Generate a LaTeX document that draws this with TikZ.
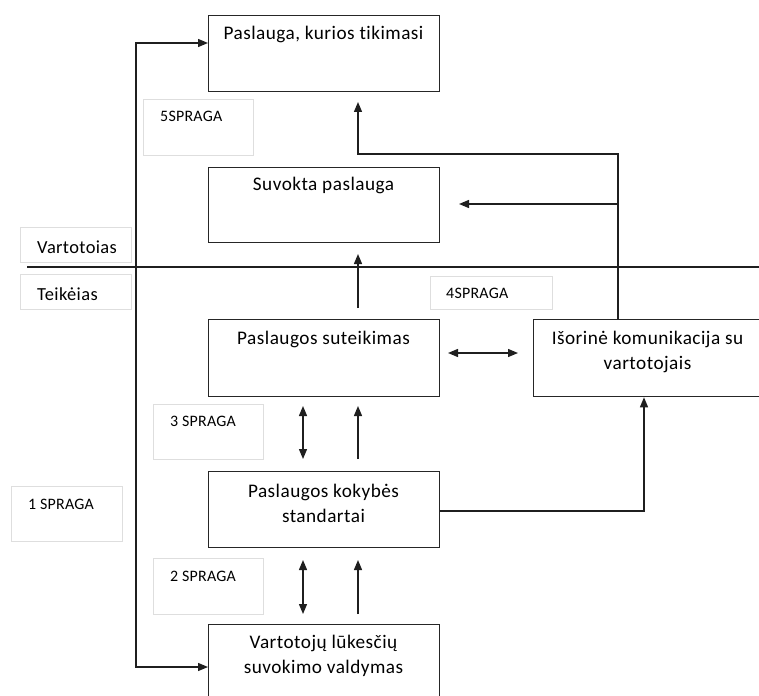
\documentclass[tikz,border=0pt]{standalone}
\usepackage{fontspec}
\setmainfont{Carlito}[Ligatures=NoCommon]
\usetikzlibrary{arrows.meta}
\begin{document}
\begin{tikzpicture}[x=1bp,y=-1bp,
  box/.style={draw=black!85, line width=1.3bp, rectangle, anchor=north west, inner sep=0pt},
  gapbox/.style={draw=black!13, line width=1bp, rectangle, anchor=north west, inner sep=0pt},
  btext/.style={font=\fontsize{19.3}{25}\selectfont\addfontfeature{LetterSpace=2.5}, align=center, anchor=base, inner sep=0pt},
  gtext/.style={font=\fontsize{16}{19}\selectfont\addfontfeature{LetterSpace=1.5}, anchor=base west, inner sep=0pt},
  stext/.style={font=\fontsize{18.5}{22}\selectfont\addfontfeature{LetterSpace=2}, anchor=base west, inner sep=0pt},
  ln/.style={line width=1.3bp, draw=black!88},
  arr/.style={ln, -{Triangle[length=10bp,width=8bp]}},
  darr/.style={ln, {Triangle[length=10bp,width=8bp]}-{Triangle[length=10bp,width=8bp]}}]
\clip (0,0) rectangle (759,696);
\fill[white] (0,0) rectangle (759,696);

% main boxes
\node[box, minimum width=231bp, minimum height=76bp] (exp) at (208,15) {};
\node[box, minimum width=231bp, minimum height=75bp] (suv) at (208,167) {};
\node[box, minimum width=231bp, minimum height=77bp] (sut) at (208,319) {};
\node[box, minimum width=229bp, minimum height=77bp] (iso) at (533,319) {};
\node[box, minimum width=231bp, minimum height=76bp] (kok) at (208,471) {};
\node[box, minimum width=231bp, minimum height=90bp] (val) at (208,624) {};

% box texts (anchor = baseline of last line)
\node[btext] (expt) at (323.5,40) {Paslauga, kurios tikimasi};
\node[btext] (suvt) at (323.5,190) {Suvokta paslauga};
\node[btext] (sutt) at (323.5,344) {Paslaugos suteikimas};
\node[btext] (isot) at (647.5,369.5) {Išorinė komunikacija su\\vartotojais};
\node[btext] (kokt) at (323.5,522) {Paslaugos kokybės\\standartai};
\node[btext] (valt) at (323.5,673) {Vartotojų lūkesčių\\suvokimo valdymas};

% gap boxes
\node[gapbox, minimum width=110bp, minimum height=56bp] (g5) at (143,99) {};
\node[gapbox, minimum width=110bp, minimum height=55bp] (g3) at (153,404) {};
\node[gapbox, minimum width=110bp, minimum height=56bp] (g2) at (153,558) {};
\node[gapbox, minimum width=111bp, minimum height=55bp] (g1) at (11,486) {};
\node[gapbox, minimum width=122bp, minimum height=33bp] (g4) at (430,276) {};
\node[gapbox, minimum width=111bp, minimum height=35bp] (gv) at (20,227) {};
\node[gapbox, minimum width=111bp, minimum height=35bp] (gt) at (20,274) {};

\node[gtext] (g5t) at (160,122) {5SPRAGA};
\node[gtext] (g3t) at (170,426) {3 SPRAGA};
\node[gtext] (g2t) at (170,581) {2 SPRAGA};
\node[gtext] (g1t) at (28,509) {1 SPRAGA};
\node[gtext] (g4t) at (446,298) {4SPRAGA};
\node[stext] (gvt) at (37,253) {Vartotoias};
\node[stext] (gtt) at (37,300) {Teikėias};

% divider line
\coordinate (hl1) at (27,267);
\coordinate (hl2) at (760,267);
\draw[ln] (hl1) -- (hl2);

% left connector
\coordinate (L1) at (136,43);
\coordinate (L2) at (136,667);
\draw[darr] (exp.west |- L1) -- (L1) -- (L2) -- (val.west |- L2);

% right connector
\coordinate (R1) at (618,154);
\coordinate (R2) at (358,154);
\coordinate (R3) at (358,102);
\coordinate (R4) at (618,204);
\coordinate (R5) at (459,204);
\draw[arr] (iso.north -| R1) -- (R1) -- (R2) -- (R3);
\draw[arr] (R4) -- (R5);

% suteikimas -> suvokta
\coordinate (U0) at (358,308);
\coordinate (U1) at (358,254);
\draw[arr] (U0) -- (U1);

% suteikimas <-> isorine
\coordinate (H1) at (448,353);
\coordinate (H2) at (518,353);
\draw[darr] (H1) -- (H2);

% gap 3 arrows
\coordinate (D1) at (303,406);
\coordinate (D2) at (303,459);
\draw[darr] (D1) -- (D2);
\coordinate (E1) at (358,459);
\coordinate (E2) at (358,406);
\draw[arr] (E1) -- (E2);

% gap 2 arrows
\coordinate (F1) at (303,560);
\coordinate (F2) at (303,614);
\draw[darr] (F1) -- (F2);
\coordinate (G1) at (358,614);
\coordinate (G2) at (358,560);
\draw[arr] (G1) -- (G2);

% kokybes -> isorine
\coordinate (K1) at (644,511);
\draw[arr] (kok.east |- K1) -- (K1) -- (K1 |- iso.south);
\end{tikzpicture}
\end{document}
